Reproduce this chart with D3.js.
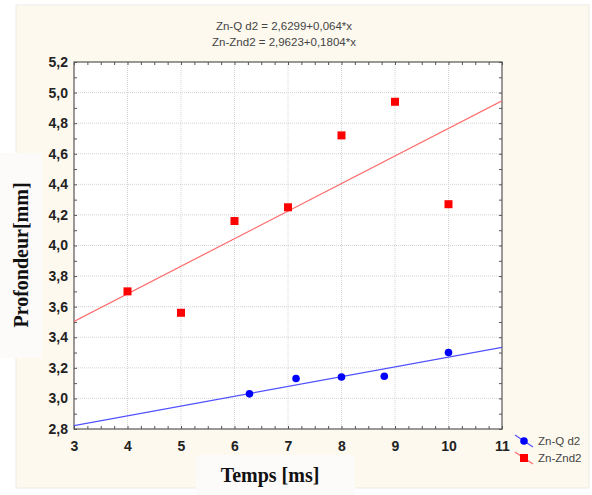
<!DOCTYPE html>
<html><head><meta charset="utf-8">
<script src="https://cdn.jsdelivr.net/npm/d3@7"></script>
<style>body{margin:0;background:#fff;}svg{display:block;}</style>
</head><body>
<svg id="c" width="592" height="495"></svg>
<script>
const equations = ["Zn-Q d2 = 2,6299+0,064*x", "Zn-Znd2 = 2,9623+0,1804*x"];
const seriesNames = ["Zn-Q d2", "Zn-Znd2"];
const znQx = [6.28, 7.15, 8.0, 8.8, 10];
const znQy = [3.03, 3.13, 3.14, 3.145, 3.30];
const znZx = [4, 5, 6, 7, 8, 9, 10];
const znZy = [3.70, 3.56, 4.16, 4.25, 4.72, 4.94, 4.27];
const fitIntercept = [2.6299, 2.9623];
const fitSlope = [0.064, 0.1804];
const xTicks = [3, 4, 5, 6, 7, 8, 9, 10, 11];
const yTicks = [2.8, 3.0, 3.2, 3.4, 3.6, 3.8, 4.0, 4.2, 4.4, 4.6, 4.8, 5.0, 5.2];
const xTitle = "Temps [ms]";
const yTitle = "Profondeur[mm]";

const svg = d3.select("#c");
const L = 74, R = 502, T = 62, B = 429;
const x = d3.scaleLinear().domain([3, 11]).range([L, R]);
const y = d3.scaleLinear().domain([2.8, 5.2]).range([B, T]);

// background panel
svg.append("rect").attr("x", 16).attr("y", 5).attr("width", 573).attr("height", 483)
  .attr("fill", "#fdf9ef").attr("stroke", "#ecebe6");
// plot area
svg.append("rect").attr("x", L).attr("y", T).attr("width", R - L).attr("height", B - T).attr("fill", "#fff");

// grid
const g = svg.append("g");
g.selectAll(".gx").data(xTicks.slice(1, -1)).join("line")
  .attr("x1", d => x(d)).attr("x2", d => x(d)).attr("y1", T).attr("y2", B)
  .attr("stroke", "#d4d4d4").attr("stroke-dasharray", "1,1");
g.selectAll(".gy").data(yTicks.slice(1, -1)).join("line")
  .attr("y1", d => y(d)).attr("y2", d => y(d)).attr("x1", L).attr("x2", R)
  .attr("stroke", "#d4d4d4").attr("stroke-dasharray", "1,1");

// axes (ticks inward)
const xMinor = d3.range(3, 11.001, 0.25);
const yMinor = d3.range(2.8, 5.2001, 0.1);
svg.append("g").attr("transform", `translate(0,${B})`)
  .call(d3.axisTop(x).tickValues(xMinor).tickSize(3).tickFormat(""))
  .call(a => a.select(".domain").remove()).selectAll("line").attr("stroke", "#555");
svg.append("g").attr("transform", `translate(0,${T})`)
  .call(d3.axisBottom(x).tickValues(xMinor).tickSize(3).tickFormat(""))
  .call(a => a.select(".domain").remove()).selectAll("line").attr("stroke", "#555");
svg.append("g").attr("transform", `translate(${L},0)`)
  .call(d3.axisRight(y).tickValues(yMinor).tickSize(3).tickFormat(""))
  .call(a => a.select(".domain").remove()).selectAll("line").attr("stroke", "#555");
svg.append("g").attr("transform", `translate(${R},0)`)
  .call(d3.axisLeft(y).tickValues(yMinor).tickSize(3).tickFormat(""))
  .call(a => a.select(".domain").remove()).selectAll("line").attr("stroke", "#555");

// labels
const xl = svg.append("g").attr("transform", `translate(0,${B})`)
  .call(d3.axisBottom(x).tickValues(xTicks).tickSize(0).tickPadding(12).tickFormat(d => String(d)));
xl.select(".domain").remove();
xl.selectAll("text").attr("font-family", "Liberation Sans, Arial, sans-serif").attr("font-size", 14)
  .attr("font-weight", "bold").attr("fill", "#222");
const yl = svg.append("g").attr("transform", `translate(${L},0)`)
  .call(d3.axisLeft(y).tickValues(yTicks).tickSize(0).tickPadding(6).tickFormat(d => d.toFixed(1).replace(".", ",")));
yl.select(".domain").remove();
yl.selectAll("text").attr("font-family", "Liberation Sans, Arial, sans-serif").attr("font-size", 14)
  .attr("font-weight", "bold").attr("fill", "#222");

// frame
svg.append("rect").attr("x", L).attr("y", T).attr("width", R - L).attr("height", B - T)
  .attr("fill", "none").attr("stroke", "#555").attr("stroke-width", 1.2);

// fit lines
const lineColors = ["#5050ff", "#ff6a6a"];
svg.append("clipPath").attr("id", "pc").append("rect")
  .attr("x", L).attr("y", T).attr("width", R - L).attr("height", B - T);
[0, 1].forEach(i => {
  svg.append("line").attr("clip-path", "url(#pc)")
    .attr("x1", x(3)).attr("y1", y(fitIntercept[i] + fitSlope[i] * 3))
    .attr("x2", x(11)).attr("y2", y(fitIntercept[i] + fitSlope[i] * 11))
    .attr("stroke", lineColors[i]).attr("stroke-width", 1.2);
});

// points
svg.selectAll(".q").data(znQx.map((d, i) => [d, znQy[i]])).join("circle")
  .attr("cx", d => x(d[0])).attr("cy", d => y(d[1])).attr("r", 3.8).attr("fill", "#0000ff");
svg.selectAll(".z").data(znZx.map((d, i) => [d, znZy[i]])).join("rect")
  .attr("x", d => x(d[0]) - 4).attr("y", d => y(d[1]) - 4).attr("width", 8).attr("height", 8).attr("fill", "#ff0000");

// equations
svg.selectAll(".eq").data(equations).join("text")
  .attr("x", 284).attr("y", (d, i) => 30 + i * 16).attr("text-anchor", "middle")
  .attr("font-family", "Liberation Sans, Arial, sans-serif").attr("font-size", 11.5).attr("fill", "#444")
  .text(d => d);

// legend
seriesNames.forEach((n, i) => {
  const cy = 441 + i * 17;
  const lg = svg.append("g");
  lg.append("line").attr("x1", 515).attr("y1", cy - 6).attr("x2", 533).attr("y2", cy + 6)
    .attr("stroke", lineColors[i]).attr("stroke-width", 1.2);
  if (i === 0) lg.append("circle").attr("cx", 524).attr("cy", cy).attr("r", 3.8).attr("fill", "#0000ff");
  else lg.append("rect").attr("x", 520).attr("y", cy - 4).attr("width", 8).attr("height", 8).attr("fill", "#ff0000");
  lg.append("text").attr("x", 538).attr("y", cy + 4).text(n)
    .attr("font-family", "Liberation Sans, Arial, sans-serif").attr("font-size", 11.5).attr("fill", "#444");
});

// axis title boxes
svg.append("rect").attr("x", 0).attr("y", 153).attr("width", 42).attr("height", 205).attr("fill", "#fdfafa");
svg.append("text").attr("transform", "translate(28,255) rotate(-90)").attr("text-anchor", "middle")
  .attr("font-family", "Liberation Serif, Times New Roman, serif").attr("font-weight", "bold")
  .attr("font-size", 20).attr("fill", "#111").text(yTitle);
svg.append("rect").attr("x", 196).attr("y", 455).attr("width", 159).attr("height", 40).attr("fill", "#fdfafa");
svg.append("text").attr("x", 270).attr("y", 482).attr("text-anchor", "middle")
  .attr("font-family", "Liberation Serif, Times New Roman, serif").attr("font-weight", "bold")
  .attr("font-size", 20).attr("fill", "#111").text(xTitle);
</script>
</body></html>
